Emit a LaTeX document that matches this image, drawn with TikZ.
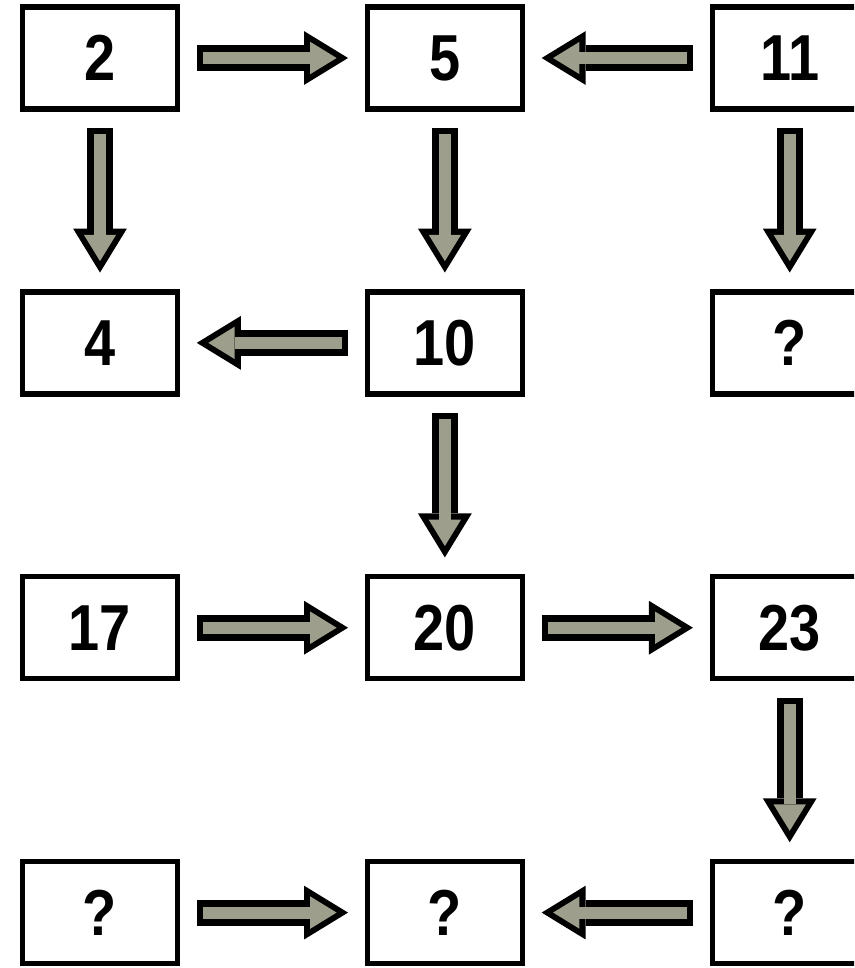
\documentclass[tikz,border=0pt]{standalone}
\usepackage{fontspec}
\setmainfont{Liberation Sans}
\usepackage{graphicx}
\usetikzlibrary{arrows.meta, positioning}
\definecolor{speck}{RGB}{158,158,140}
\tikzset{
  box/.style={
    rectangle, draw, line width=3pt, minimum width=3.1cm, minimum height=2.04cm,
    inner sep=0pt, outer sep=11pt, font=\fontsize{37}{40}\selectfont\bfseries
  },
  fat/.style={
    line width=14.7pt, -{Triangle[length=25pt, width=30.6pt, line width=0pt]},
    postaction={draw=speck, line width=6.8pt, shorten <=3.4pt, shorten >=6.5pt,
      -{Triangle[length=15pt, width=18.4pt, line width=0pt]}}
  }
}
\newcommand{\nm}[1]{\scalebox{0.86}[1]{#1}}

\begin{document}
\begin{tikzpicture}[node distance=2.884cm and 3.024cm]

  \useasboundingbox (-2,1.16) rectangle (15.08,-18.2);
  \clip (-2,1.16) rectangle (15.08,-18.2);

  % Fila 1
  \node[box] (n2) {\nm{2}};
  \node[box, right=of n2] (n5) {\nm{5}};
  \node[box, right=of n5] (n11) {\nm{11}};

  % Fila 2
  \node[box, below=of n2] (n4) {\nm{4}};
  \node[box, below=of n5] (n10) {\nm{10}};
  \node[box, below=of n11] (qa) {\nm{?}};

  % Fila 3
  \node[box, below=of n4] (n17) {\nm{17}};
  \node[box, below=of n10] (n20) {\nm{20}};
  \node[box, below=of qa] (n23) {\nm{23}};

  % Fila 4
  \node[box, below=of n17] (qb) {\nm{?}};
  \node[box, below=of n20] (qc) {\nm{?}};
  \node[box, below=of n23] (qd) {\nm{?}};

  % Flechas
  \draw[fat] (n2) -- (n5);
  \draw[fat] (n11) -- (n5);
  \draw[fat] (n2) -- (n4);
  \draw[fat] (n5) -- (n10);
  \draw[fat] (n11) -- (qa);
  \draw[fat] (n10) -- (n4);
  \draw[fat] (n10) -- (n20);
  \draw[fat] (n17) -- (n20);
  \draw[fat] (n20) -- (n23);
  \draw[fat] (n23) -- (qd);
  \draw[fat] (qb) -- (qc);
  \draw[fat] (qd) -- (qc);

\end{tikzpicture}
\end{document}
